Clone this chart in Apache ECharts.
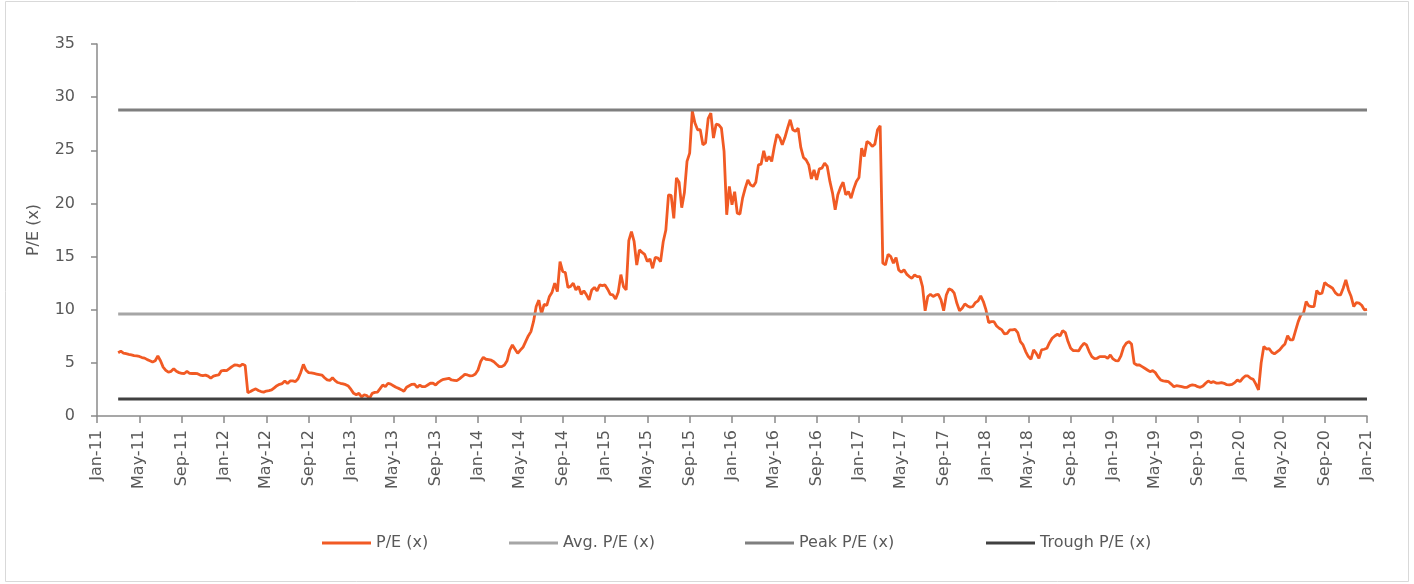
<!DOCTYPE html>
<html><head><meta charset="utf-8">
<script src="https://cdn.jsdelivr.net/npm/echarts@6/dist/echarts.min.js"></script>
<style>html,body{margin:0;padding:0;background:#fff}#c{width:1414px;height:584px}</style>
</head><body><div id="c"></div>
<script>
// Tick labels: every 4 months from Jan-11 to Jan-21 (x = months since Jan-2011)
const monthNames = ['Jan','Feb','Mar','Apr','May','Jun','Jul','Aug','Sep','Oct','Nov','Dec'];
const baseYear = 2011;
const firstMonthOffset = 2;          // series begins in Mar-2011
const readingsPerMonth = 4;          // roughly weekly readings

// P/E (x) readings, roughly weekly, one array per calendar year
const pe2011 = [5.95,6.1,5.92,5.86, 5.8,5.75,5.68,5.65, 5.6,5.5,5.45,5.3, 5.2,5.08,5.2,5.65,
  5.2,4.6,4.3,4.12, 4.2,4.45,4.2,4.08, 4.02,4.0,4.2,4.02, 4.0,4.02,3.98,3.85,
  3.8,3.85,3.75,3.55, 3.75,3.82,3.86,4.25];
const pe2012 = [4.3,4.27,4.45,4.65, 4.8,4.78,4.7,4.88, 4.75,2.2,2.3,2.45, 2.55,2.4,2.3,2.25,
  2.35,2.38,2.45,2.65, 2.85,2.98,3.05,3.3, 3.05,3.3,3.3,3.23, 3.5,4.1,4.85,4.3,
  4.08,4.05,4.0,3.95, 3.9,3.85,3.6,3.4, 3.35,3.6,3.33,3.15, 3.08,3.02,2.95,2.82];
const pe2013 = [2.5,2.13,2.0,2.13, 1.8,1.98,1.92,1.65, 2.13,2.22,2.25,2.57, 2.92,2.76,3.08,3.0,
  2.85,2.7,2.6,2.48, 2.32,2.7,2.85,2.98, 3.0,2.7,2.9,2.76, 2.76,2.92,3.08,3.08,
  2.92,3.17,3.33,3.45, 3.5,3.55,3.39,3.36, 3.33,3.5,3.7,3.92, 3.86,3.77,3.8,3.95];
const pe2014 = [4.33,5.12,5.52,5.34, 5.3,5.25,5.1,4.87, 4.65,4.65,4.8,5.2, 6.2,6.68,6.28,5.9,
  6.2,6.46,7.0,7.53, 7.94,8.9,10.3,10.9, 9.6,10.5,10.4,11.25, 11.65,12.5,11.7,14.53,
  13.6,13.5,12.1,12.2, 12.5,11.86,12.2,11.45, 11.77,11.4,10.92,11.86, 12.1,11.77,12.33,12.27];
const pe2015 = [12.33,11.93,11.45,11.39, 11.0,11.65,13.3,12.18, 11.86,16.5,17.35,16.42, 14.2,15.63,15.4,15.2,
  14.53,14.78,13.9,14.94, 14.85,14.53,16.4,17.5, 20.8,20.75,18.6,22.4, 22.0,19.6,21.0,23.95,
  24.73,28.7,27.56,26.93, 26.93,25.52,25.7,27.97, 28.5,26.15,27.46,27.4, 27.09,24.89,18.93,21.6];
const pe2016 = [19.87,21.1,19.08,19.0, 20.5,21.44,22.2,21.75, 21.6,22.0,23.63,23.7, 24.95,23.95,24.42,23.95,
  25.36,26.5,26.2,25.52, 26.2,27.09,27.87,26.93, 26.78,27.09,25.27,24.33, 24.1,23.63,22.3,23.16,
  22.22,23.26,23.32,23.79, 23.48,22.07,20.97,19.4, 20.81,21.5,22.0,20.81, 21.12,20.5,21.37,22.07];
const pe2017 = [22.44,25.2,24.42,25.83, 25.67,25.36,25.58,26.93, 27.3,14.38,14.22,15.22, 15.0,14.38,14.9,13.75,
  13.53,13.75,13.35,13.12, 12.96,13.28,13.12,13.12, 12.18,9.9,11.24,11.45, 11.24,11.39,11.45,10.92,
  9.9,11.39,11.96,11.86, 11.55,10.6,9.9,10.14, 10.55,10.36,10.23,10.3, 10.67,10.83,11.3,10.77];
const pe2018 = [9.98,8.79,8.88,8.88, 8.47,8.26,8.1,7.72, 7.78,8.1,8.1,8.16, 7.85,7.0,6.69,6.06,
  5.59,5.34,6.22,5.9, 5.43,6.22,6.28,6.37, 6.9,7.31,7.53,7.69, 7.53,8.04,7.85,7.0,
  6.37,6.15,6.15,6.12, 6.53,6.84,6.69,6.06, 5.59,5.4,5.43,5.59, 5.59,5.59,5.43,5.74];
const pe2019 = [5.37,5.21,5.18,5.65, 6.47,6.84,7.0,6.78, 4.96,4.8,4.8,4.65, 4.49,4.33,4.17,4.27,
  4.08,3.7,3.39,3.3, 3.27,3.23,3.0,2.76, 2.85,2.82,2.76,2.7, 2.7,2.85,2.92,2.89,
  2.76,2.7,2.82,3.08, 3.3,3.14,3.23,3.1, 3.1,3.14,3.08,2.95, 2.92,2.98,3.14,3.39];
const pe2020 = [3.23,3.55,3.77,3.77, 3.55,3.45,3.0,2.45, 5.0,6.53,6.3,6.34, 6.0,5.84,6.03,6.22,
  6.53,6.78,7.56,7.16, 7.16,8.04,8.88,9.51, 9.67,10.77,10.36,10.3, 10.3,11.8,11.49,11.55,
  12.55,12.34,12.18,12.02, 11.61,11.39,11.39,12.02, 12.8,11.86,11.24,10.3, 10.67,10.61,10.42,9.98,
  10.04];

const avgPE = 9.6;
const peakPE = 28.8;
const troughPE = 1.6;

const yearly = [pe2011, pe2012, pe2013, pe2014, pe2015, pe2016, pe2017, pe2018, pe2019, pe2020];
const peSeries = [];
yearly.forEach((arr, yi) => {
  const start = yi * 12 + (yi === 0 ? firstMonthOffset : 0);
  arr.forEach((v, i) => peSeries.push([start + i / readingsPerMonth, v]));
});
const xFirst = peSeries[0][0];
const xLast = peSeries[peSeries.length - 1][0];
const flat = v => [[xFirst, v], [xLast, v]];

const txt = '#595959';
const axisCol = '#8a8a8a';
const font = 'DejaVu Sans';

const chart = echarts.init(document.getElementById('c'), null, {renderer: 'canvas'});
const legendBase = {
  top: 530, itemWidth: 49, itemHeight: 3, icon: 'rect',
  textStyle: {color: txt, fontSize: 16, fontFamily: font},
  selectedMode: false
};
chart.setOption({
  animation: false,
  backgroundColor: '#fff',
  graphic: [{type: 'rect', shape: {x: 5.5, y: 1.5, width: 1403, height: 580},
    style: {fill: 'none', stroke: '#d9d9d9', lineWidth: 1}, silent: true}],
  grid: {left: 97, right: 47, top: 44, bottom: 168},
  legend: [
    Object.assign({}, legendBase, {left: 317, data: ['P/E (x)']}),
    Object.assign({}, legendBase, {left: 504, data: ['Avg. P/E (x)']}),
    Object.assign({}, legendBase, {left: 740, data: ['Peak P/E (x)']}),
    Object.assign({}, legendBase, {left: 981, data: ['Trough P/E (x)']})
  ],
  xAxis: {
    type: 'value', min: 0, max: 120, interval: 4,
    axisLine: {show: true, lineStyle: {color: axisCol, width: 1.5}},
    axisTick: {show: true, length: 7, lineStyle: {color: axisCol, width: 1.5}},
    splitLine: {show: false},
    axisLabel: {
      rotate: 90, margin: 14, color: txt, fontSize: 16, fontFamily: font,
      formatter: v => monthNames[v % 12] + '-' + String((baseYear + Math.floor(v / 12)) % 100).padStart(2, '0')
    }
  },
  yAxis: {
    type: 'value', min: 0, max: 35, interval: 5,
    name: 'P/E (x)', nameLocation: 'middle', nameGap: 55,
    nameTextStyle: {color: txt, fontSize: 16, fontFamily: font},
    axisLine: {show: true, lineStyle: {color: axisCol, width: 1.5}},
    axisTick: {show: true, length: 6, lineStyle: {color: axisCol, width: 1.5}},
    splitLine: {show: false},
    axisLabel: {margin: 22, color: txt, fontSize: 16, fontFamily: font}
  },
  series: [
    {name: 'P/E (x)', type: 'line', data: peSeries, symbol: 'none', color: '#F15A24',
      lineStyle: {width: 2.8, color: '#F15A24'}},
    {name: 'Avg. P/E (x)', type: 'line', data: flat(avgPE), symbol: 'none', color: '#A6A6A6',
      lineStyle: {width: 3, color: '#A6A6A6'}},
    {name: 'Peak P/E (x)', type: 'line', data: flat(peakPE), symbol: 'none', color: '#7F7F7F',
      lineStyle: {width: 3, color: '#7F7F7F'}},
    {name: 'Trough P/E (x)', type: 'line', data: flat(troughPE), symbol: 'none', color: '#404040',
      lineStyle: {width: 3, color: '#404040'}}
  ]
});
</script></body></html>
